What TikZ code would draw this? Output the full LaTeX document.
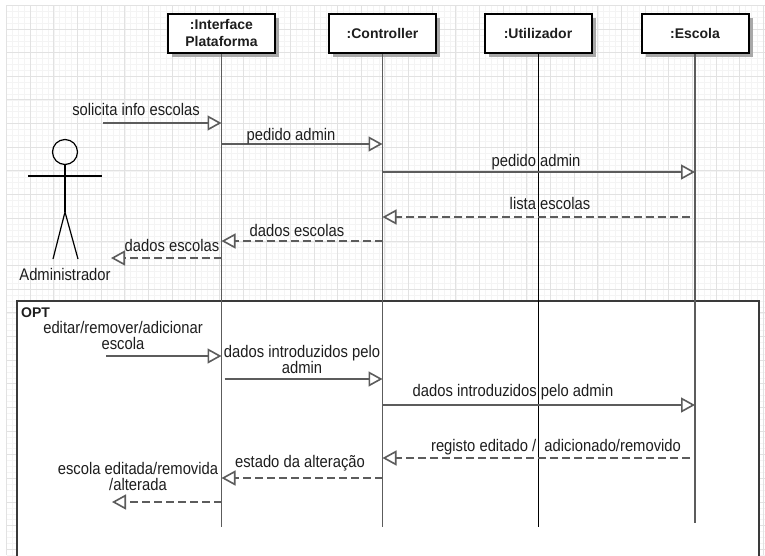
\documentclass[tikz,border=0pt]{standalone}
\usepackage{fontspec}
\setmainfont{Liberation Sans}
\newfontfamily\lblfont{Liberation Sans}[FakeStretch=0.88]
\usetikzlibrary{arrows.meta,shadows}
\definecolor{ln}{HTML}{5C5C5C}
\definecolor{txt}{HTML}{1E1E1E}
\definecolor{gmaj}{HTML}{E2E2E2}
\definecolor{gmin}{HTML}{F4F4F4}
\definecolor{frm}{HTML}{3A3A3A}
\definecolor{shd}{HTML}{A8A8A8}
\begin{document}
\begin{tikzpicture}[x=1pt,y=-1pt,
  objbox/.style={draw=black, line width=2pt, fill=white, minimum width=107pt, minimum height=39pt,
    inner sep=0pt, align=center, font=\fontsize{14}{17}\selectfont\bfseries, text=txt,
    drop shadow={shadow xshift=4pt,shadow yshift=-4pt,fill=shd,opacity=1}},
  lifeline/.style={draw=ln, line width=1.6pt},
  msg/.style={draw=ln, line width=1.6pt, -{Triangle[open,length=14pt,width=15pt,fill=white]}},
  ret/.style={msg, dash pattern=on 8pt off 4pt},
  lbl/.style={font=\lblfont\fontsize{16.8}{16}\selectfont, text=txt, inner sep=0pt, align=center, anchor=base},
  stick/.style={draw=black, line width=1.2pt},
]
\useasboundingbox (0,0) rectangle (765,555);
\fill[white] (0,0) rectangle (765,555);
% grid
\foreach \i in {0,...,130} \draw[gmin, line width=0.5pt] ({6.5+5.9125*\i},5) -- ({6.5+5.9125*\i},555);
\foreach \j in {0,...,93} \draw[gmin, line width=0.5pt] (6.5,{5.3+5.9125*\j}) -- (765,{5.3+5.9125*\j});
\foreach \i in {0,...,32} \draw[gmaj, line width=0.9pt] ({6.5+23.65*\i},5) -- ({6.5+23.65*\i},555);
\foreach \j in {0,...,23} \draw[gmaj, line width=0.9pt] (6.5,{5.3+23.65*\j}) -- (765,{5.3+23.65*\j});
% OPT frame
\fill[white] (17,301) rectangle (759,560);
\draw[frm, line width=1.5pt] (17,560) -- (17,301) -- (759,301) -- (759,560);
\node[anchor=base west, inner sep=0pt, font=\fontsize{14}{16}\selectfont\bfseries, text=txt] (opt) at (21,317) {OPT};
% headers
\node[objbox] (ifc) at (221.5,33) {:Interface\\Plataforma};
\node[objbox] (ctl) at (382.5,33) {:Controller};
\node[objbox] (uti) at (538,33) {:Utilizador};
\node[objbox] (esc) at (695,33) {:Escola};
% lifeline ends
\coordinate (ifcE) at (ifc |- 0,527);
\coordinate (ctlE) at (ctl |- 0,527);
\coordinate (utiE) at (uti |- 0,527);
\coordinate (escE) at (esc |- 0,523);
\draw[lifeline] (ifc.south) -- (ifcE);
\draw[lifeline] (ctl.south) -- (ctlE);
\draw[lifeline, draw=black, line width=1pt] (uti.south) -- (utiE);
\draw[lifeline] (esc.south) -- (escE);
% actor
\draw[stick] (65,152) circle (12.5);
\draw[stick] (28,176) -- (102,176);
\draw[stick] (65,164.5) -- (65,212);
\draw[stick] (53,259) -- (65,212) -- (78,259);
\node[lbl] (adm) at (65,280) {Administrador};
% free ends
\coordinate (a1) at (103,123);
\coordinate (a2) at (111,258);
\coordinate (a3) at (106,356);
\coordinate (a4) at (112,502);
% messages
\draw[msg] (a1) -- (ifc |- a1);
\node[lbl] (t1) at (136,115) {solicita info escolas};
\draw[msg] (ifc |- 0,144) -- (ctl |- 0,144);
\node[lbl] (t2) at (291,140) {pedido admin};
\draw[msg] (ctl |- 0,172) -- (esc |- 0,172);
\node[lbl] (t3) at (536,166) {pedido admin};
\draw[ret] ([xshift=-5pt]esc |- 0,217) -- (ctl |- 0,217);
\node[lbl] (t4) at (550,209) {lista escolas};
\draw[ret] (ctl |- 0,241) -- (ifc |- 0,241);
\node[lbl] (t5) at (297,236) {dados escolas};
\draw[ret] (ifc |- a2) -- (a2);
\node[lbl] (t6) at (172,251) {dados escolas};
% OPT part
\draw[msg] (a3) -- (ifc |- a3);
\node[lbl] (t7) at (123,349) {editar/remover/adicionar\\escola};
\draw[msg] ([xshift=3pt]ifc |- 0,379) -- (ctl |- 0,379);
\node[lbl] (t8) at (302,373) {dados introduzidos pelo\\admin};
\draw[msg] (ctl |- 0,405) -- (esc |- 0,405);
\node[lbl] (t9) at (513,396) {dados introduzidos pelo admin};
\draw[ret] ([xshift=-5pt]esc |- 0,458) -- (ctl |- 0,458);
\node[lbl] (t10) at (556,451) {registo editado /\ \ adicionado/removido};
\draw[ret] (ctl |- 0,478) -- (ifc |- 0,478);
\node[lbl] (t11) at (300,467) {estado da alteração};
\draw[ret] (ifc |- a4) -- (a4);
\node[lbl] (t12) at (138,490) {escola editada/removida\\/alterada};
\end{tikzpicture}
\end{document}
